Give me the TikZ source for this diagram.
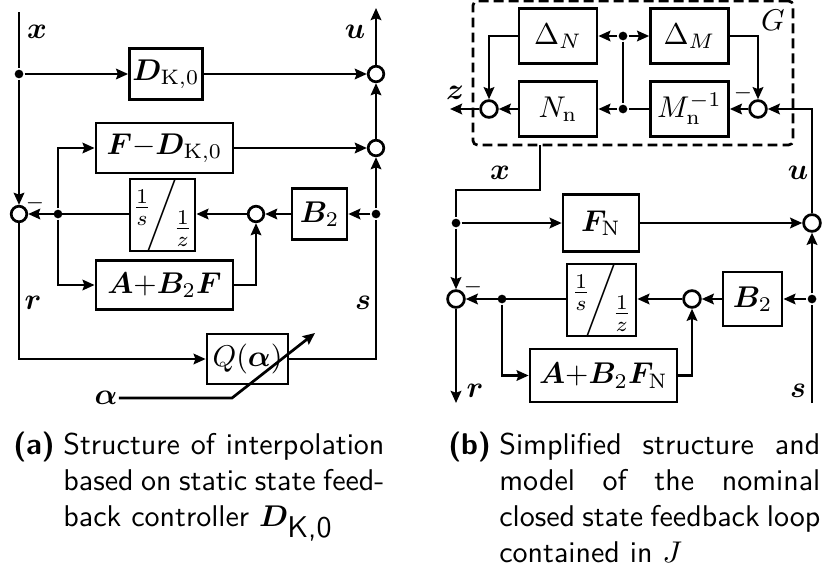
\documentclass[tikz,border=0pt]{standalone}
\usepackage{fontspec}
\usepackage{bm}
\usetikzlibrary{arrows.meta}

% integrator / delay block text
\newcommand{\sdzfrac}{\raisebox{2.5pt}{$\frac{1}{s}$}\!\bigg/\!\raisebox{-4.5pt}{$\frac{1}{z}$}}

\begin{document}
\begin{tikzpicture}[
      x=0.3333pt, y=-0.3333pt,
      line width=0.9pt,
      block/.style={draw, line width=0.9pt, inner sep=1pt},
      sumpt/.style={circle, draw, line width=0.9pt, minimum size=5.2pt, inner sep=0pt},
      branch/.style={circle, fill=black, minimum size=2.9pt, inner sep=0pt},
      signal/.style={inner sep=0pt},
      caption/.style={inner sep=0pt, anchor=north west, align=justify,
        font=\sffamily\fontsize{10}{12}\selectfont},
      >={Stealth[length=4pt,width=3.5pt,inset=0.6pt]}
    ]
    \useasboundingbox (0,0) rectangle (824,570);

    %-----------------------------
    % 1) Interpolation with D_K,0
    %-----------------------------
    \coordinate (a-xin) at (19,12);
    \node[branch] (a-xdot) at (19,74) {};
    \node[block, minimum width=24pt, minimum height=17pt] (a-Dk) at (166,74)
      {$\bm{D}_{\mathrm{K},0}$};
    \node[sumpt] (a-sum1) at (376,74) {};
    \coordinate (a-uout) at (376,8);
    \node[block, minimum width=45.7pt, minimum height=16.7pt] (a-FD) at (164.5,148)
      {$\bm{F}{-}\bm{D}_{\mathrm{K},0}$};
    \node[sumpt] (a-sum2) at (376,148) {};
    \node[sumpt] (a-sumL) at (19,214) {};
    \node[branch] (a-xbr) at (58,214) {};
    \node[block, minimum width=21.7pt, minimum height=22pt, inner sep=0pt] (a-int) at (162.5,215)
      {$\sdzfrac$};
    \node[sumpt] (a-sumM) at (256,214) {};
    \node[block, minimum width=18.3pt, minimum height=17pt] (a-B2) at (319.5,214) {$\bm{B}_2$};
    \node[branch] (a-sbr) at (376,214) {};
    \node[block, minimum width=45.7pt, minimum height=16.3pt] (a-AB) at (164.5,285)
      {$\bm{A}{+}\bm{B}_2\bm{F}$};
    \node[block, minimum width=27pt, minimum height=16.7pt] (a-Q) at (247.5,359)
      {$Q(\bm{\alpha})$};
    \node[signal] (a-alpha) at (106,398) {$\bm{\alpha}$};
    \coordinate (a-akink) at (232,398);
    \coordinate (a-atip) at (315,333);

    % signal names
    \node[signal] (a-xlab) at (37,32) {$\bm{x}$};
    \node[signal] (a-ulab) at (355,32) {$\bm{u}$};
    \node[signal] (a-rlab) at (33,303) {$\bm{r}$};
    \node[signal] (a-slab) at (363,303) {$\bm{s}$};
    \node[signal] (a-minus) at (35,203) {$\scriptstyle-$};

    % connections
    \draw (a-xin) -- (a-xdot);
    \draw[->] (a-xdot) -- (a-sumL);
    \draw[->] (a-xdot) -- (a-Dk);
    \draw[->] (a-Dk) -- (a-sum1);
    \draw[->] (a-sum1) -- (a-uout);
    \draw[->] (a-FD) -- (a-sum2);
    \draw[->] (a-sum2) -- (a-sum1);
    \draw[->] (a-sbr) -- (a-sum2);
    \draw[->] (a-sbr) -- (a-B2);
    \draw[->] (a-B2) -- (a-sumM);
    \draw[->] (a-sumM) -- (a-int.east |- a-sumM);
    \draw[->] (a-int.west |- a-sumL) -- (a-sumL);
    \draw[->] (a-xbr) |- (a-FD);
    \draw[->] (a-xbr) |- (a-AB);
    \draw[->] (a-AB) -| (a-sumM);
    \draw[->] (a-sumL) |- (a-Q);
    \draw (a-Q) -| (a-sbr);
    \draw[->] (a-alpha) -- (a-akink) -- (a-atip);

    %-----------------------------
    % 2) Nominal closed loop
    %-----------------------------
    \begin{scope}[sumpt/.append style={minimum size=5.6pt}]
    \node[draw, line width=0.9pt, dash pattern=on 3.3pt off 1.7pt, rounded corners=1.5pt,
          minimum width=106.7pt, minimum height=48pt] (b-G) at (633,73) {};
    \node[signal] (b-Glab) at (773,20) {$G$};
    \node[block, minimum width=26pt, minimum height=18.3pt] (b-dN) at (558,36) {$\Delta_N$};
    \node[block, minimum width=26pt, minimum height=18.3pt] (b-dM) at (689.5,36) {$\Delta_M$};
    \node[branch] (b-ddot) at (623,36) {};
    \node[block, minimum width=26pt, minimum height=18.3pt] (b-Nn) at (558,109) {$N_\mathrm{n}$};
    \node[block, minimum width=26pt, minimum height=18.3pt] (b-Mn) at (689.5,109)
      {$M_\mathrm{n}^{-1}$};
    \node[branch] (b-ndot) at (623,109) {};
    \node[sumpt] (b-sumR) at (758,109) {};
    \node[sumpt] (b-sumZ) at (489,109) {};
    \coordinate (b-zout) at (450,109);
    \coordinate (b-xout) at (540,145);
    \coordinate (b-xkink) at (540,190);
    \coordinate (b-xleft) at (456,190);
    \node[branch] (b-xdot) at (456,223) {};
    \node[block, minimum width=25.3pt, minimum height=19pt] (b-FN) at (601,223) {$\bm{F}_\mathrm{N}$};
    \node[sumpt] (b-sumU) at (812,223) {};
    \node[sumpt] (b-sumL) at (456,299) {};
    \node[branch] (b-xbr) at (502,299) {};
    \node[block, minimum width=23pt, minimum height=23.3pt, inner sep=0pt] (b-int) at (601.5,300)
      {$\sdzfrac$};
    \node[sumpt] (b-sumM) at (692,299) {};
    \node[block, minimum width=19.7pt, minimum height=18pt] (b-B2) at (752.5,299) {$\bm{B}_2$};
    \node[branch] (b-sbr) at (812,299) {};
    \node[block, minimum width=49pt, minimum height=17.7pt] (b-AB) at (603.5,375.5)
      {$\bm{A}{+}\bm{B}_2\bm{F}_\mathrm{N}$};
    \coordinate (b-rout) at (456,403);
    \coordinate (b-sin) at (812,403);

    % signal names
    \node[signal] (b-zlab) at (455,93) {$\bm{z}$};
    \node[signal] (b-minusR) at (743,93) {$\scriptstyle-$};
    \node[signal] (b-xlab) at (500,173) {$\bm{x}$};
    \node[signal] (b-ulab) at (798,173) {$\bm{u}$};
    \node[signal] (b-minusL) at (473,287) {$\scriptstyle-$};
    \node[signal] (b-rlab) at (475,391) {$\bm{r}$};
    \node[signal] (b-slab) at (798,391) {$\bm{s}$};

    % connections inside G
    \draw[->] (b-ddot) -- (b-dN);
    \draw[->] (b-ddot) -- (b-dM);
    \draw (b-ddot) -- (b-ndot);
    \draw (b-Mn) -- (b-ndot);
    \draw[->] (b-ndot) -- (b-Nn);
    \draw[->] (b-sumR) -- (b-Mn);
    \draw[->] (b-dM) -| (b-sumR);
    \draw[->] (b-dN) -| (b-sumZ);
    \draw[->] (b-Nn) -- (b-sumZ);
    \draw[->] (b-sumZ) -- (b-zout);
    \draw[->] (b-sumU) |- (b-sumR);

    % state feedback loop
    \draw (b-xout) -- (b-xkink) -- (b-xleft) -- (b-xdot);
    \draw[->] (b-xdot) -- (b-FN);
    \draw[->] (b-FN) -- (b-sumU);
    \draw[->] (b-xdot) -- (b-sumL);
    \draw (b-sin) -- (b-sbr);
    \draw[->] (b-sbr) -- (b-sumU);
    \draw[->] (b-sbr) -- (b-B2);
    \draw[->] (b-B2) -- (b-sumM);
    \draw[->] (b-sumM) -- (b-int.east |- b-sumM);
    \draw[->] (b-int.west |- b-sumL) -- (b-sumL);
    \draw[->] (b-xbr) |- (b-AB);
    \draw[->] (b-AB) -| (b-sumM);
    \draw[->] (b-sumL) -- (b-rout);
    \end{scope}

    %-----------------------------
    % Captions
    %-----------------------------
    \node[caption, text width=123.7pt] (capa) at (12,431)
      {\hangindent=16.7pt\hangafter=1\noindent\makebox[16.7pt][l]{\bfseries(a)}Structure of
       interpolation\linebreak based on static state feed-\linebreak back controller
       $\bm{D}_{\textsf{K,0}}$\par};
    \node[caption, text width=124pt] (capb) at (447,431)
      {\hangindent=17pt\hangafter=1\noindent\makebox[17pt][l]{\bfseries(b)}Simplified
       structure and\linebreak model of the nominal\linebreak closed state feedback
       loop\linebreak contained in $J$\par};

  \end{tikzpicture}
\end{document}
